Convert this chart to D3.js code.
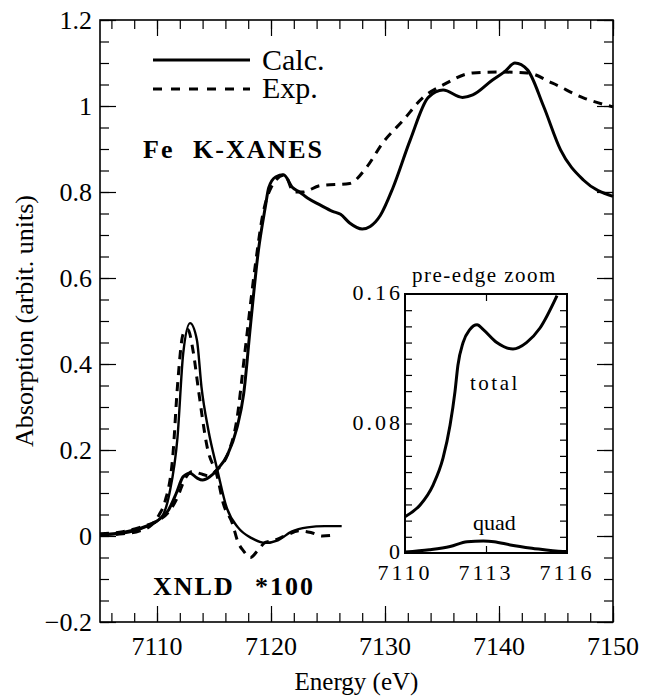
<!DOCTYPE html>
<html>
<head>
<meta charset="utf-8">
<script src="https://cdn.jsdelivr.net/npm/d3@7/dist/d3.min.js"></script>
<style>
  body { margin: 0; background: #fff; }
  svg text { font-family: "Liberation Serif", "Times New Roman", serif; fill: #000; }
</style>
</head>
<body>
<svg id="chart" width="646" height="699"></svg>
<script>
// Fe K-XANES, calculated (solid) and experiment (dashed)
const xanesCalcE = [7105, 7107, 7108.5, 7110, 7111, 7111.7, 7112.3, 7112.9, 7113.5, 7114, 7114.6, 7115.3, 7116.2, 7117, 7117.6, 7118.2, 7118.9, 7119.5, 7119.8, 7120.4, 7121.1, 7121.9, 7122.5, 7123.2, 7124.3, 7125.4, 7126.1, 7126.9, 7128, 7128.7, 7129.6, 7130.7, 7132.2, 7133.8, 7135.1, 7136.8, 7137.7, 7139.4, 7140.5, 7141.4, 7142.5, 7143.9, 7145.4, 7147.4, 7150];
const xanesCalcV = [0.003, 0.008, 0.018, 0.035, 0.06, 0.1, 0.138, 0.146, 0.135, 0.13, 0.137, 0.155, 0.19, 0.25, 0.33, 0.49, 0.665, 0.765, 0.81, 0.835, 0.84, 0.81, 0.8, 0.786, 0.77, 0.755, 0.748, 0.728, 0.714, 0.72, 0.746, 0.81, 0.92, 1.02, 1.037, 1.02, 1.026, 1.06, 1.08, 1.1, 1.084, 1.0, 0.898, 0.828, 0.79];

const xanesExpE = [7105, 7107, 7108.5, 7110, 7111, 7111.8, 7112.4, 7113.1, 7113.8, 7114.5, 7115.3, 7116.2, 7117, 7117.7, 7118.6, 7119.3, 7120, 7121.2, 7122, 7122.8, 7124.3, 7126.9, 7128.4, 7129.8, 7131.6, 7133.3, 7135.1, 7137.7, 7140.1, 7142.5, 7144.7, 7147.4, 7150];
const xanesExpV = [0.005, 0.01, 0.02, 0.035, 0.055, 0.09, 0.13, 0.15, 0.145, 0.14, 0.155, 0.19, 0.27, 0.425, 0.625, 0.75, 0.81, 0.84, 0.8, 0.8, 0.815, 0.82, 0.858, 0.914, 0.967, 1.019, 1.049, 1.077, 1.079, 1.077, 1.053, 1.019, 0.998];

// XNLD (x100), calculated and experiment
const xnldCalcE = [7105, 7107, 7108.9, 7110.4, 7111.1, 7111.8, 7112.3, 7112.9, 7113.5, 7113.9, 7114.5, 7115.3, 7116.1, 7117.1, 7118.3, 7119.5, 7120.6, 7121.8, 7123.2, 7124.7, 7126.2];
const xnldCalcV = [0.002, 0.006, 0.02, 0.044, 0.1, 0.23, 0.425, 0.495, 0.456, 0.347, 0.247, 0.153, 0.067, 0.02, -0.005, -0.016, -0.01, 0.01, 0.02, 0.023, 0.023];

const xnldExpE = [7105, 7107, 7108.5, 7109.5, 7110.2, 7110.7, 7111.4, 7111.8, 7112.3, 7112.7, 7113.2, 7113.6, 7114.4, 7115.3, 7115.8, 7116.6, 7117.1, 7117.6, 7118.2, 7118.8, 7119.5, 7120.3, 7121.2, 7122.5, 7123.5, 7124.5, 7125.5];
const xnldExpV = [0.002, 0.005, 0.012, 0.025, 0.05, 0.08, 0.19, 0.35, 0.47, 0.48, 0.425, 0.347, 0.207, 0.137, 0.077, 0.03, -0.014, -0.035, -0.05, -0.035, -0.015, -0.01, 0.0, 0.012, 0.008, 0.0, 0.002];

// inset: pre-edge total and quadrupole part
const totalE = [7110, 7110.56, 7111.04, 7111.41, 7111.67, 7111.85, 7111.96, 7112.15, 7112.4, 7112.67, 7112.9, 7113.4, 7114, 7114.5, 7115, 7115.63];
const totalV = [0.0224, 0.0297, 0.042, 0.0587, 0.079, 0.0995, 0.116, 0.13, 0.138, 0.141, 0.138, 0.13, 0.126, 0.13, 0.139, 0.159];
const quadE = [7110, 7110.9, 7111.67, 7112.3, 7112.9, 7113.3, 7113.9, 7114.7, 7115.85, 7116];
const quadV = [0.0006, 0.002, 0.004, 0.007, 0.0074, 0.007, 0.005, 0.003, 0.001, 0.001];

// tick values
const xTicks = [7110, 7120, 7130, 7140, 7150];
const yTicks = [-0.2, 0, 0.2, 0.4, 0.6, 0.8, 1, 1.2];
const insetXTicks = [7110, 7113, 7116];
const insetYTicks = [0, 0.08, 0.16];

const svg = d3.select('#chart');
const serif = '"Liberation Serif", "Times New Roman", serif';

const main = { left: 100, top: 20, width: 513, height: 602 };
const x = d3.scaleLinear().domain([7105, 7150]).range([main.left, main.left + main.width]);
const y = d3.scaleLinear().domain([-0.2, 1.2]).range([main.top + main.height, main.top]);

const zip = (es, vs) => es.map((e, i) => ({ e, v: vs[i] }));

function frameAxes(g, xs, ys, box, opt) {
  // minor + major ticks on all four sides, pointing inward
  const sides = [
    { axis: d3.axisBottom(xs), t: `translate(0,${box.top + box.height})`, ticks: opt.xMinor, len: opt.minor },
    { axis: d3.axisBottom(xs), t: `translate(0,${box.top + box.height})`, ticks: opt.xMajor, len: opt.major },
    { axis: d3.axisTop(xs), t: `translate(0,${box.top})`, ticks: opt.xMinor, len: opt.minor },
    { axis: d3.axisTop(xs), t: `translate(0,${box.top})`, ticks: opt.xMajor, len: opt.major },
    { axis: d3.axisLeft(ys), t: `translate(${box.left},0)`, ticks: opt.yMinor, len: opt.minor },
    { axis: d3.axisLeft(ys), t: `translate(${box.left},0)`, ticks: opt.yMajor, len: opt.major },
    { axis: d3.axisRight(ys), t: `translate(${box.left + box.width},0)`, ticks: opt.yMinor, len: opt.minor },
    { axis: d3.axisRight(ys), t: `translate(${box.left + box.width},0)`, ticks: opt.yMajor, len: opt.major },
  ];
  sides.forEach((s) => {
    const a = g
      .append('g')
      .attr('transform', s.t)
      .call(s.axis.tickValues(s.ticks).tickSize(-s.len).tickFormat(''));
    a.select('.domain').remove();
    a.selectAll('line').attr('stroke', '#000').attr('stroke-width', 1.2);
  });

  g.append('rect')
    .attr('x', box.left)
    .attr('y', box.top)
    .attr('width', box.width)
    .attr('height', box.height)
    .attr('fill', 'none')
    .attr('stroke', '#000')
    .attr('stroke-width', opt.frame);
}

// ---- main panel ----
const range = (a, b, s) => d3.range(Math.round((b - a) / s) + 1).map((i) => +(a + i * s).toFixed(4));

frameAxes(svg.append('g'), x, y, main, {
  xMajor: xTicks.concat([7105 + 0]).filter((d) => d > 7105),
  xMinor: range(7106, 7150, 2),
  yMajor: yTicks,
  yMinor: range(-0.2, 1.2, 0.05),
  major: 16,
  minor: 9,
  frame: 1.6,
});

// tick labels
svg.append('g')
  .selectAll('text')
  .data(xTicks)
  .join('text')
  .attr('x', (d) => x(d))
  .attr('y', 655)
  .attr('text-anchor', 'middle')
  .attr('font-size', 26)
  .text((d) => d);

svg.append('g')
  .selectAll('text')
  .data(yTicks)
  .join('text')
  .attr('x', 92)
  .attr('y', (d) => y(d) + 9)
  .attr('text-anchor', 'end')
  .attr('font-size', 26)
  .text((d) => d3.format('')(d));

// axis titles
svg.append('text')
  .attr('x', x(7127.5))
  .attr('y', 690)
  .attr('text-anchor', 'middle')
  .attr('font-size', 25)
  .text('Energy (eV)');

svg.append('text')
  .attr('transform', `translate(33, ${y(0.5)}) rotate(-90)`)
  .attr('text-anchor', 'middle')
  .attr('font-size', 26)
  .text('Absorption (arbit. units)');

const line = d3.line().x((d) => x(d.e)).y((d) => y(d.v)).curve(d3.curveMonotoneX);

const curves = [
  { data: zip(xnldExpE, xnldExpV), dash: '9,7', w: 3 },
  { data: zip(xnldCalcE, xnldCalcV), dash: null, w: 2.4 },
  { data: zip(xanesExpE, xanesExpV), dash: '9,7', w: 3 },
  { data: zip(xanesCalcE, xanesCalcV), dash: null, w: 3 },
];

svg.append('g')
  .selectAll('path')
  .data(curves)
  .join('path')
  .attr('d', (d) => line(d.data))
  .attr('fill', 'none')
  .attr('stroke', '#000')
  .attr('stroke-width', (d) => d.w)
  .attr('stroke-dasharray', (d) => d.dash)
  .attr('stroke-linejoin', 'round');

// legend
const legend = svg.append('g');
[
  { label: 'Calc.', dash: null, ly: 60, ty: 70 },
  { label: 'Exp.', dash: '9,9', ly: 89, ty: 98 },
].forEach((d) => {
  legend
    .append('line')
    .attr('x1', 153)
    .attr('x2', 250)
    .attr('y1', d.ly)
    .attr('y2', d.ly)
    .attr('stroke', '#000')
    .attr('stroke-width', 3)
    .attr('stroke-dasharray', d.dash);
  legend.append('text').attr('x', 262).attr('y', d.ty).attr('font-size', 30).text(d.label);
});

// panel labels
const bold = [
  { t: 'Fe', x: 143, y: 158 },
  { t: 'K-XANES', x: 193, y: 158 },
  { t: 'XNLD', x: 153, y: 595 },
  { t: '*100', x: 255, y: 595 },
];
svg.append('g')
  .selectAll('text')
  .data(bold)
  .join('text')
  .attr('x', (d) => d.x)
  .attr('y', (d) => d.y)
  .attr('font-size', 26)
  .attr('font-weight', 700)
  .attr('letter-spacing', 2)
  .text((d) => d.t);

// ---- inset: pre-edge zoom ----
const inset = { left: 405, top: 294, width: 162, height: 259 };
const xi = d3.scaleLinear().domain([7110, 7116]).range([inset.left, inset.left + inset.width]);
const yi = d3.scaleLinear().domain([0, 0.16]).range([inset.top + inset.height, inset.top]);

const ig = svg.append('g');
ig.append('rect')
  .attr('x', inset.left)
  .attr('y', inset.top)
  .attr('width', inset.width)
  .attr('height', inset.height)
  .attr('fill', '#fff');

frameAxes(ig, xi, yi, inset, {
  xMajor: [7113],
  xMinor: [],
  yMajor: [],
  yMinor: range(0.01, 0.15, 0.01),
  major: 7,
  minor: 7,
  frame: 2,
});

const iline = d3.line().x((d) => xi(d.e)).y((d) => yi(d.v)).curve(d3.curveMonotoneX);
ig.append('g')
  .selectAll('path')
  .data([zip(totalE, totalV), zip(quadE, quadV)])
  .join('path')
  .attr('d', iline)
  .attr('fill', 'none')
  .attr('stroke', '#000')
  .attr('stroke-width', 3);

ig.append('g')
  .selectAll('text')
  .data(insetXTicks)
  .join('text')
  .attr('x', (d) => xi(d))
  .attr('y', 580)
  .attr('text-anchor', 'middle')
  .attr('font-size', 22)
  .attr('letter-spacing', 3)
  .text((d) => d);

ig.append('g')
  .selectAll('text')
  .data(insetYTicks)
  .join('text')
  .attr('x', 403)
  .attr('y', (d) => yi(d) + 6)
  .attr('text-anchor', 'end')
  .attr('font-size', 22)
  .attr('letter-spacing', 3)
  .text((d) => (d === 0 ? '0' : d3.format('.2f')(d)));

ig.append('text').attr('x', 412).attr('y', 282).attr('font-size', 21).attr('letter-spacing', 1.5).text('pre-edge zoom');
ig.append('text').attr('x', 470).attr('y', 390).attr('font-size', 21).attr('letter-spacing', 2.5).text('total');
ig.append('text').attr('x', 473).attr('y', 530).attr('font-size', 22).text('quad');
</script>
</body>
</html>
